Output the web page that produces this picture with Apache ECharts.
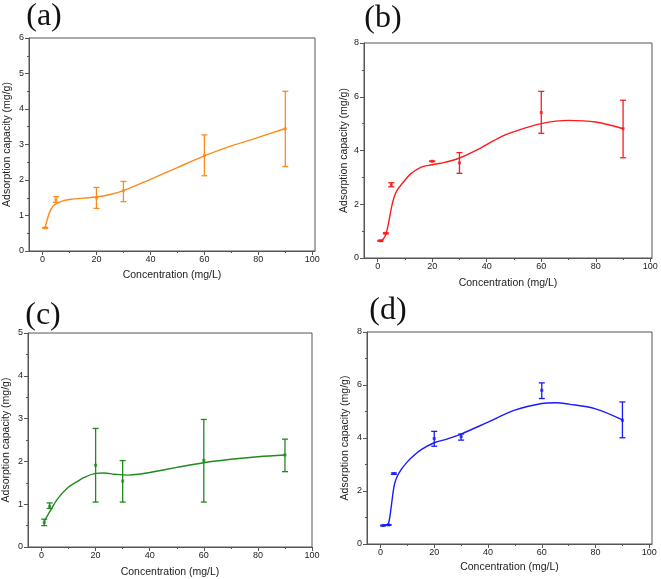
<!DOCTYPE html>
<html>
<head>
<meta charset="utf-8">
<script src="https://cdn.jsdelivr.net/npm/echarts@6/dist/echarts.min.js"></script>
<style>
html,body{margin:0;padding:0;background:#fff;}
#c{width:661px;height:579px;}
</style>
</head>
<body>
<div id="c"></div>
<script>
// ---------- data ----------
const xMajorTicks = [0, 20, 40, 60, 80, 100];
const xMinorTicks = [10, 30, 50, 70, 90];
const xName = 'Concentration (mg/L)';
const yName = 'Adsorption capacity (mg/g)';
const panelLabels = ['(a)', '(b)', '(c)', '(d)'];

// (a)
const aX    = [1, 5, 20, 30, 60, 90];
const aY    = [0.65, 1.44, 1.50, 1.70, 2.69, 3.44];
const aLow  = [0.64, 1.37, 1.20, 1.39, 2.12, 2.38];
const aHigh = [0.66, 1.53, 1.79, 1.96, 3.27, 4.50];
const aCurveX = [1, 2, 3, 4, 5, 7, 10, 15, 20, 25, 30, 40, 50, 60, 70, 80, 90];
const aCurveY = [0.66, 0.95, 1.15, 1.27, 1.33, 1.40, 1.45, 1.49, 1.52, 1.59, 1.70, 2.02, 2.35, 2.68, 2.96, 3.20, 3.45];

// (b)
const bX    = [1, 3, 5, 20, 30, 60, 90];
const bY    = [0.64, 0.92, 2.72, 3.60, 3.54, 5.41, 4.81];
const bLow  = [0.62, 0.90, 2.65, 3.59, 3.15, 4.64, 3.73];
const bHigh = [0.66, 0.94, 2.80, 3.61, 3.92, 6.20, 5.87];
const bCurveX = [1, 2, 3, 4, 5, 6, 7, 9, 12, 16, 20, 25, 30, 37, 45, 50, 60, 70, 80, 90];
const bCurveY = [0.64, 0.70, 0.88, 1.30, 1.85, 2.25, 2.50, 2.77, 3.12, 3.38, 3.47, 3.57, 3.72, 4.05, 4.50, 4.70, 5.00, 5.12, 5.06, 4.81];

// (c)
const cX    = [1, 3, 20, 30, 60, 90];
const cY    = [0.57, 0.95, 1.91, 1.54, 2.02, 2.15];
const cLow  = [0.50, 0.90, 1.05, 1.05, 1.05, 1.76];
const cHigh = [0.65, 1.03, 2.77, 2.02, 2.98, 2.52];
const cCurveX = [1, 3, 6, 10, 13, 16, 20, 23, 27, 32, 36, 40, 50, 60, 70, 80, 90];
const cCurveY = [0.60, 0.82, 1.13, 1.40, 1.52, 1.63, 1.72, 1.73, 1.70, 1.68, 1.70, 1.74, 1.86, 1.97, 2.05, 2.11, 2.15];

// (d)
const dX    = [1, 3, 5, 20, 30, 60, 90];
const dY    = [0.70, 0.72, 2.66, 3.98, 4.05, 5.80, 4.67];
const dLow  = [0.68, 0.71, 2.63, 3.69, 3.92, 5.49, 4.01];
const dHigh = [0.71, 0.73, 2.68, 4.25, 4.15, 6.08, 5.36];
const dCurveX = [1, 2, 3, 4, 5, 6, 8, 10, 12, 15, 20, 25, 30, 40, 50, 60, 65, 70, 80, 90];
const dCurveY = [0.70, 0.72, 0.78, 1.40, 2.15, 2.50, 2.85, 3.10, 3.30, 3.55, 3.82, 3.97, 4.15, 4.60, 5.05, 5.30, 5.33, 5.28, 5.10, 4.68];

// ---------- layout / styles ----------
const panels = [
  {x:aX,y:aY,lo:aLow,hi:aHigh,cx:aCurveX,cy:aCurveY,color:'#ff8a1c',grid:{left:29,top:38,width:286,height:213},xmin:-5,xmax:101,ymax:6,yint:1,yNameGap:16,xNameGap:19,lab:[44,17]},
  {x:bX,y:bY,lo:bLow,hi:bHigh,cx:bCurveX,cy:bCurveY,color:'#ff1a1a',grid:{left:364,top:43,width:288,height:215},xmin:-5,xmax:100.6,ymax:8,yint:2,yNameGap:14,xNameGap:20,lab:[383,19]},
  {x:cX,y:cY,lo:cLow,hi:cHigh,cx:cCurveX,cy:cCurveY,color:'#1e8a1e',grid:{left:27,top:333,width:285,height:214},xmin:-5,xmax:100,ymax:5,yint:1,yNameGap:16,xNameGap:20,lab:[43,316]},
  {x:dX,y:dY,lo:dLow,hi:dHigh,cx:dCurveX,cy:dCurveY,color:'#1a1aff',grid:{left:367,top:332,width:285,height:212},xmin:-5,xmax:101,ymax:8,yint:2,yNameGap:16,xNameGap:18,lab:[388,311]}
];

const axisColor = '#555';
const grids = [], xAxes = [], yAxes = [], series = [], graphics = [];

panels.forEach((p, i) => {
  grids.push(Object.assign({show:true, borderColor:axisColor, borderWidth:1, backgroundColor:'transparent'}, p.grid));
  // main x axis
  xAxes.push({
    type:'value', gridIndex:i, min:p.xmin, max:p.xmax, position:'bottom',
    name:xName, nameLocation:'middle', nameGap:p.xNameGap,
    nameTextStyle:{fontFamily:'Liberation Sans, Arial', fontSize:10.5, color:'#222'},
    axisLine:{show:true, onZero:false, lineStyle:{color:axisColor, width:1}},
    axisTick:{show:true, inside:false, length:4, customValues:xMajorTicks, lineStyle:{color:axisColor}},
    axisLabel:{show:true, margin:4, customValues:xMajorTicks, fontFamily:'Liberation Sans, Arial', fontSize:9, color:'#222'},
    splitLine:{show:false}
  });
  // minor x ticks
  xAxes.push({
    type:'value', gridIndex:i, min:p.xmin, max:p.xmax, position:'bottom',
    axisLine:{show:false, onZero:false},
    axisTick:{show:true, inside:false, length:2, customValues:xMinorTicks, lineStyle:{color:axisColor}},
    axisLabel:{show:false},
    splitLine:{show:false}
  });
  yAxes.push({
    type:'value', gridIndex:i, min:0, max:p.ymax, interval:p.yint,
    name:yName, nameLocation:'middle', nameGap:p.yNameGap,
    nameTextStyle:{fontFamily:'Liberation Sans, Arial', fontSize:10.5, color:'#222'},
    axisLine:{show:true, onZero:false, lineStyle:{color:axisColor, width:1}},
    axisTick:{show:true, inside:false, length:4, lineStyle:{color:axisColor}},
    minorTick:{show:true, splitNumber:2, length:2, lineStyle:{color:axisColor}},
    axisLabel:{margin:5, fontFamily:'Liberation Sans, Arial', fontSize:9, color:'#222'},
    splitLine:{show:false}
  });
  const xi = i * 2;
  // fitted curve
  series.push({
    type:'line', xAxisIndex:xi, yAxisIndex:i, smooth:0.35, showSymbol:false, symbol:'none',
    data:p.cx.map((v, k) => [v, p.cy[k]]),
    lineStyle:{color:p.color, width:1.4}, silent:true, z:2
  });
  // error bars
  const col = p.color;
  series.push({
    type:'custom', xAxisIndex:xi, yAxisIndex:i, z:3,
    data:p.x.map((v, k) => [v, p.lo[k], p.hi[k]]),
    encode:{x:0, y:[1,2]},
    renderItem:function(params, api){
      const x = api.value(0);
      const lo = api.coord([x, api.value(1)]);
      const hi = api.coord([x, api.value(2)]);
      const w = 3;
      const st = {stroke:col, lineWidth:1.3};
      return {type:'group', children:[
        {type:'line', shape:{x1:lo[0], y1:lo[1], x2:hi[0], y2:hi[1]}, style:st},
        {type:'line', shape:{x1:lo[0]-w, y1:lo[1], x2:lo[0]+w, y2:lo[1]}, style:st},
        {type:'line', shape:{x1:hi[0]-w, y1:hi[1], x2:hi[0]+w, y2:hi[1]}, style:st}
      ]};
    }
  });
  // data points
  series.push({
    type:'scatter', xAxisIndex:xi, yAxisIndex:i, symbol:'rect', symbolSize:3, z:4,
    data:p.x.map((v, k) => [v, p.y[k]]),
    itemStyle:{color:p.color}
  });
  graphics.push({
    type:'text', x:p.lab[0], y:p.lab[1],
    style:{text:panelLabels[i], fontFamily:'Liberation Serif, Times New Roman, serif', fontSize:32, fill:'#111', align:'center', verticalAlign:'middle'}
  });
});

const chart = echarts.init(document.getElementById('c'), null, {renderer:'canvas'});
chart.setOption({
  animation:false,
  backgroundColor:'#fff',
  grid:grids, xAxis:xAxes, yAxis:yAxes, series:series, graphic:graphics
});
</script>
</body>
</html>
